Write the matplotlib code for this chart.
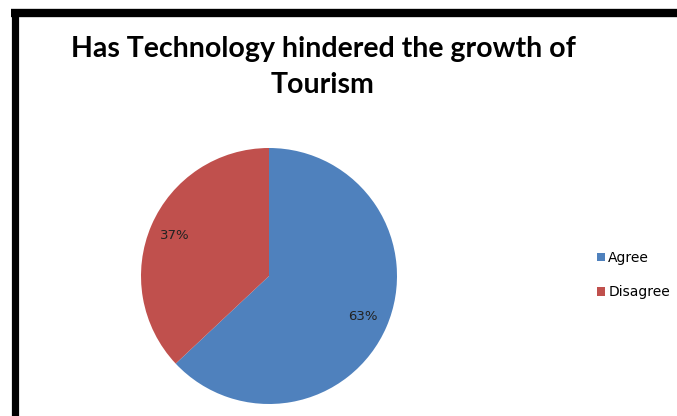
import matplotlib.pyplot as plt
from matplotlib.lines import Line2D

# data
labels = ['Agree', 'Disagree']
shares = [63, 37]
colors = ['#4F81BD', '#C0504D']
title = 'Has Technology hindered the growth of\nTourism'

W, H = 677, 416
fig = plt.figure(figsize=(W / 100, H / 100), dpi=100)

# pie placed by pixel geometry: centre (269, 276), radius 128
cx, cy, r = 269, 276, 128
ax = fig.add_axes([(cx - r) / W, (H - cy - r) / H, 2 * r / W, 2 * r / H])
wedges, texts, autotexts = ax.pie(shares, colors=colors, startangle=90, counterclock=False,
                                  autopct='%d%%', pctdistance=0.8,
                                  textprops={'fontsize': 9.5, 'family': 'DejaVu Sans', 'color': '#222222'})
ax.set_xlim(-1, 1)
ax.set_ylim(-1, 1)
ax.set_aspect('equal')

# title
fig.text(323 / W, 1 - 67 / H, title, ha='center', va='center', fontsize=20.5,
         fontweight='bold', family='Lato', linespacing=1.5)

# legend
leg = fig.legend(wedges, labels, loc='center left', bbox_to_anchor=(584 / W, 1 - 275 / H),
                 frameon=False, handlelength=0.6, handleheight=0.6,
                 handletextpad=0.25, labelspacing=1.45, prop={'family': 'DejaVu Sans', 'size': 10})

# black frame lines (top and left)
fig.add_artist(Line2D([11 / W, 1], [1 - 13 / H, 1 - 13 / H], color='black', lw=6,
                      transform=fig.transFigure, solid_capstyle='butt'))
fig.add_artist(Line2D([14.5 / W, 14.5 / W], [1 - 9 / H, 0], color='black', lw=5.2,
                      transform=fig.transFigure, solid_capstyle='butt'))

fig.savefig('out.png', dpi=100)
